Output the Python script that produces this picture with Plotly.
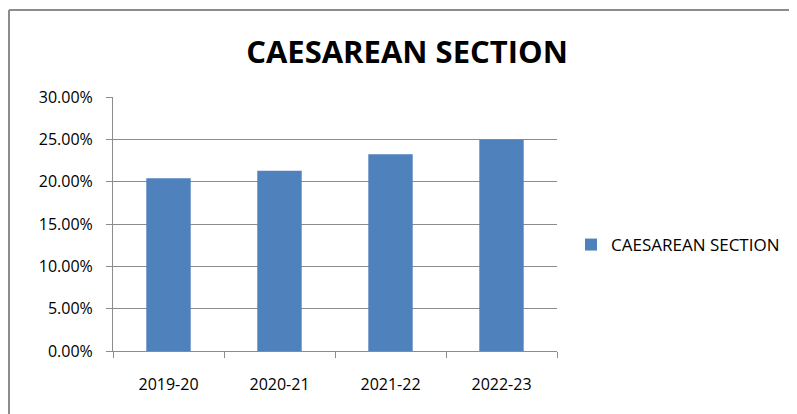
import plotly.graph_objects as go

categories = ["2019-20", "2020-21", "2021-22", "2022-23"]
values = [0.204, 0.213, 0.2325, 0.2495]
series_name = "CAESAREAN SECTION"
title_text = "CAESAREAN SECTION"
y_ticks = [0, 0.05, 0.10, 0.15, 0.20, 0.25, 0.30]

W, H = 797, 414
ml, mr, mt, mb = 105, 248, 89, 71
pw, ph = W - ml - mr, H - mt - mb

fig = go.Figure()
fig.add_trace(go.Bar(
    x=categories, y=values, name=series_name,
    marker=dict(color="#4F81BD", line=dict(width=0)),
    showlegend=True,
))

font_family = "Open Sans"
fig.update_layout(
    width=W, height=H,
    margin=dict(l=ml, r=mr, t=mt, b=mb, autoexpand=False),
    paper_bgcolor="white", plot_bgcolor="white",
    bargap=0.6,
    title=dict(text="<b>" + title_text + "</b>", x=399 / W, xanchor="center",
               y=1 - 44 / H, yanchor="middle", xref="container", yref="container",
               font=dict(family=font_family, size=31, color="black")),
    showlegend=True,
    legend=dict(x=(563 - ml) / pw, xanchor="left",
                y=(H - mb - 237) / ph, yanchor="middle",
                font=dict(family=font_family, size=17, color="black"),
                bgcolor="rgba(0,0,0,0)"),
    font=dict(family=font_family, size=16, color="black"),
)
fig.update_yaxes(
    range=[0, 0.30], tickvals=y_ticks, tickformat=".2%",
    showgrid=True, gridcolor="#8c8c8c", gridwidth=1,
    showline=True, linecolor="#8c8c8c", linewidth=1,
    ticks="outside", ticklen=6, tickcolor="#8c8c8c",
    ticklabelstandoff=10, zeroline=False,
    tickfont=dict(family=font_family, size=16, color="black"),
)
fig.update_xaxes(
    type="category",
    showline=True, linecolor="#8c8c8c", linewidth=1,
    ticks="outside", ticklen=6, tickcolor="#8c8c8c", tickson="boundaries",
    ticklabelstandoff=19,
    tickfont=dict(family=font_family, size=16, color="black"),
)
# chart border (top and left visible)
top_y = (H - mb - 2) / ph
left_x = (0 - ml) / pw + 1 / pw
fig.add_shape(type="line", xref="paper", yref="paper",
              x0=left_x, x1=(W - ml) / pw, y0=top_y, y1=top_y,
              line=dict(color="#8c8c8c", width=2))
fig.add_shape(type="line", xref="paper", yref="paper",
              x0=left_x, x1=left_x, y0=-mb / ph, y1=top_y,
              line=dict(color="#8c8c8c", width=2))

fig.write_html("out.html")
